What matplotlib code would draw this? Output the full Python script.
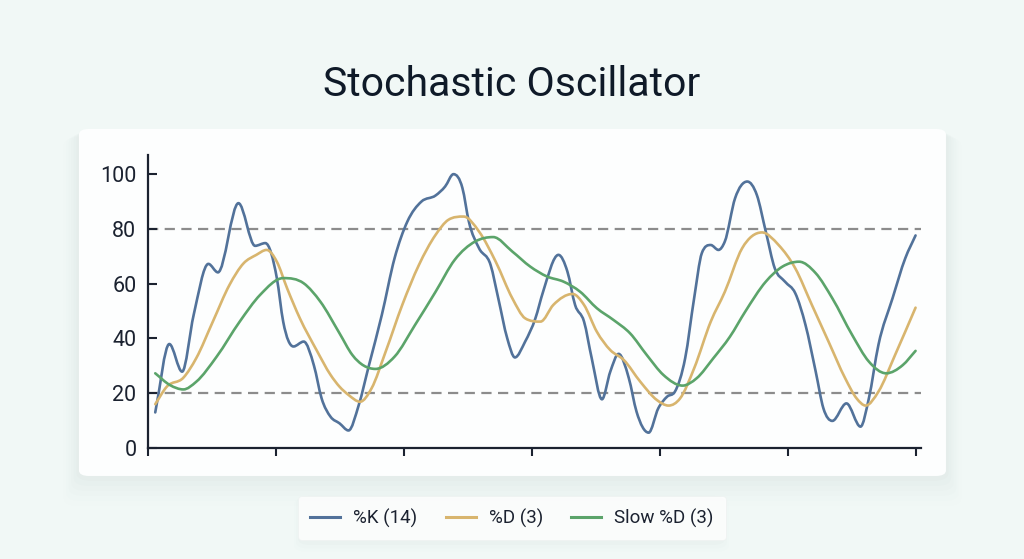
import matplotlib
matplotlib.use("Agg")
import matplotlib.pyplot as plt
from matplotlib.patches import FancyBboxPatch, PathPatch
from matplotlib.path import Path
from matplotlib.lines import Line2D
import numpy as np

plt.rcParams['font.family'] = ['Roboto', 'DejaVu Sans']

# %K (14)
k_x = [0.6, 1.7, 2.7, 3.6, 4.75, 5.5, 7.1, 8.4, 9.2, 10.1, 10.6, 11.4, 12.2, 13.0, 13.6, 14.3,
       15.0, 15.7, 16.5, 17.3, 18.3, 19.3, 20.3, 21.4, 22.5, 23.25, 23.9, 24.6, 25.1, 25.9,
       26.8, 27.4, 28.1, 28.7, 29.5, 30.3, 30.9, 32.1, 32.8, 33.4, 34.1, 34.7, 35.5, 36.15,
       36.8, 37.6, 38.2, 39.15, 39.9, 40.6, 41.2, 42.0, 42.7, 43.3, 44.0, 44.6, 45.1, 45.9,
       46.85, 47.6, 48.3, 49.0, 49.8, 50.6, 51.4, 52.2, 52.8, 53.5, 54.6, 55.7, 56.35, 57.1,
       58.2, 59.2, 60.0]
k_val = [12.9, 37.9, 27.8, 48.5, 67.2, 64.1, 89.4, 73.8, 74.8, 62, 46, 37, 38.8, 30, 18, 11.3,
         8.9, 6.3, 15.6, 30.2, 48.5, 69.3, 82.7, 90, 92.2, 95.5, 100, 94.9, 82.7, 72.9,
         66.8, 54.6, 40, 33, 38.8, 47.3, 57, 70.5, 64.4, 52.2, 46.1, 32.7, 17.7, 27.8,
         34.3, 25.4, 13.2, 5.5, 14.4, 18.7, 20.5, 32.7, 54.6, 71.1, 74.1, 72.3, 75.4, 91.2,
         97.3, 92.4, 79, 65.6, 60.7, 56.5, 44.9, 27.8, 14.4, 9.8, 16.2, 7.7, 18, 37.6,
         54.6, 69.3, 77.6]

# %D (3)
d_x = [0.6, 1.5, 2.8, 3.8, 5.1, 6.4, 7.5, 8.5, 9.3, 10.1, 10.9, 11.9, 13.2, 14.3, 15.0, 15.7,
       16.6, 17.5, 18.6, 19.9, 21.2, 22.5, 23.5, 24.7, 25.9, 27.2, 28.5, 29.5, 30.7, 31.7,
       33.2, 34.1, 35.1, 36.15, 37.2, 38.5, 39.8, 40.7, 41.6, 42.7, 44.0, 45.1, 46.45, 48.0,
       49.3, 50.6, 51.9, 53.2, 54.5, 55.4, 56.1, 57.1, 58.4, 60.0]
d_val = [15.9, 22.3, 25.6, 32.7, 46.1, 59.5, 67.4, 70.5, 72.3, 68, 58.3, 47.3, 35.7, 26.6, 22.3, 19.3,
         16.8, 21.7, 35.1, 52.2, 66.8, 77.8, 83.3, 84.5, 79, 68, 54.6, 47.3, 46.1, 52.2,
         56.2, 52.2, 42.4, 35.7, 32.1, 24.1, 17.4, 15.4, 18, 29, 46.1, 57, 72.9, 78.7,
         74.1, 65.6, 52.2, 38.8, 25.4, 18, 15.4, 20.5, 33.9, 51.2]

# Slow %D (3)
s_x = [0.6, 1.75, 2.8, 3.8, 5.4, 7.2, 8.8, 10.6, 12.2, 13.5, 15.0, 16.0, 17.8, 19.3, 20.9, 22.5,
       24.0, 25.6, 27.0, 28.5, 29.9, 31.2, 32.5, 33.8, 35.1, 36.4, 37.7, 39.0, 40.3, 41.8,
       42.9, 44.2, 45.5, 46.7, 48.3, 49.6, 50.9, 52.2, 53.5, 55.05, 56.35, 57.7, 59.0, 60.0]
s_val = [27.2, 22.9, 21.3, 24.1, 33.3, 46.1, 55.9, 62, 60.1, 53.4, 41.8, 33.9, 28.8, 33.3, 44.9, 57,
         68.7, 75.4, 77, 71.7, 66.2, 62.6, 60.7, 57, 51, 46.7, 41.8, 33.9, 26.6, 22.7,
         25.4, 32.7, 40.6, 49.8, 60.7, 66.2, 68, 63.8, 54.6, 41.2, 31.5, 27.2, 30.2, 35.4]

labels = ['%K (14)', '%D (3)', 'Slow %D (3)']
colors = ['#52729a', '#d8b56e', '#5ba46a']
levels = [20, 80]


def smooth_path(xs, ys):
    # monotone cubic curve through the points, drawn as bezier segments
    xs = np.asarray(xs, float)
    ys = np.asarray(ys, float)
    h = np.diff(xs)
    sl = np.diff(ys) / h
    m = np.zeros_like(ys)
    m[0], m[-1] = sl[0], sl[-1]
    for i in range(1, len(xs) - 1):
        if sl[i - 1] * sl[i] <= 0:
            continue
        m[i] = (sl[i - 1] * h[i] + sl[i] * h[i - 1]) / (h[i - 1] + h[i])
        lim = 3 * min(abs(sl[i - 1]), abs(sl[i]))
        if abs(m[i]) > lim:
            m[i] = np.sign(m[i]) * lim
    verts = [(xs[0], ys[0])]
    codes = [Path.MOVETO]
    for i in range(len(xs) - 1):
        d = h[i] / 3
        verts += [(xs[i] + d, ys[i] + m[i] * d), (xs[i + 1] - d, ys[i + 1] - m[i + 1] * d),
                  (xs[i + 1], ys[i + 1])]
        codes += [Path.CURVE4] * 3
    return Path(verts, codes)


fig = plt.figure(figsize=(10.24, 5.59), dpi=100, facecolor='#f1f8f6')

# card with soft shadow
for i, a in enumerate([0.03, 0.025, 0.02, 0.015, 0.012, 0.008]):
    pad = 0.005 * (i + 1)
    sh = FancyBboxPatch((0.0771 - pad * 0.5, 0.1485 - pad * 1.8), 0.8467 + pad, 0.6208 + pad * 1.3,
                        boxstyle='round,pad=0,rounding_size=0.015', transform=fig.transFigure,
                        facecolor='#93a8a2', edgecolor='none', alpha=a, zorder=0)
    fig.patches.append(sh)
card = FancyBboxPatch((0.0771, 0.1485), 0.8467, 0.6208,
                      boxstyle='round,pad=0,rounding_size=0.01', transform=fig.transFigure,
                      facecolor='#fdfefe', edgecolor='none', zorder=1)
fig.patches.append(card)

ax = fig.add_axes([0.1441, 0.1991, 0.7550, 0.5236])
ax.set_facecolor('none')
ax.set_zorder(2)

for lv in levels:
    ax.axhline(lv, color='#8c8c8c', lw=1.6, linestyle=(0, (4.6, 2.9)), zorder=1)

handles = []
for xs, ys, c, lab in [(k_x, k_val, colors[0], labels[0]),
                       (d_x, d_val, colors[1], labels[1]),
                       (s_x, s_val, colors[2], labels[2])]:
    ax.add_patch(PathPatch(smooth_path(xs, ys), facecolor='none', edgecolor=c, lw=1.9,
                           joinstyle='round', capstyle='round', zorder=3))
    handles.append(Line2D([], [], color=c, lw=2.2, label=lab))

ax.set_xlim(0, 60.4)
ax.set_ylim(0, 107)
ax.set_yticks([0, 20, 40, 60, 80, 100])
ax.set_xticks([0, 10, 20, 30, 40, 50, 60])
ax.set_xticklabels([])
ax.tick_params(axis='y', direction='in', length=6.5, width=1.5, color='#1b2230',
               labelsize=15.5, labelcolor='#1b2230', pad=8)
ax.tick_params(axis='x', direction='out', length=6, width=1.5, color='#1b2230')
for s in ['top', 'right']:
    ax.spines[s].set_visible(False)
for s in ['left', 'bottom']:
    ax.spines[s].set_color('#1b2230')
    ax.spines[s].set_linewidth(1.6)

fig.text(0.5, 0.848, 'Stochastic Oscillator', ha='center', va='center',
         fontsize=29.5, color='#0f1a28')

# legend shadow
for i, a in enumerate([0.03, 0.02, 0.012]):
    pad = 0.004 * (i + 1)
    fig.patches.append(FancyBboxPatch((0.293 - pad * 0.5, 0.031 - pad * 1.5), 0.413 + pad, 0.084 + pad,
                                      boxstyle='round,pad=0,rounding_size=0.012',
                                      transform=fig.transFigure, facecolor='#93a8a2',
                                      edgecolor='none', alpha=a, zorder=0))

leg = fig.legend(handles=handles, loc='center', bbox_to_anchor=(0.5, 0.073), ncol=3, fontsize=13.5,
                 frameon=True, fancybox=True, handlelength=1.6, handletextpad=0.7,
                 columnspacing=1.5, borderpad=0.65, labelcolor='#1b2230')
leg.get_frame().set_facecolor('white')
leg.get_frame().set_edgecolor('#eef2f1')
leg.get_frame().set_linewidth(0.6)

fig.savefig('out.png', dpi=100, facecolor=fig.get_facecolor())
